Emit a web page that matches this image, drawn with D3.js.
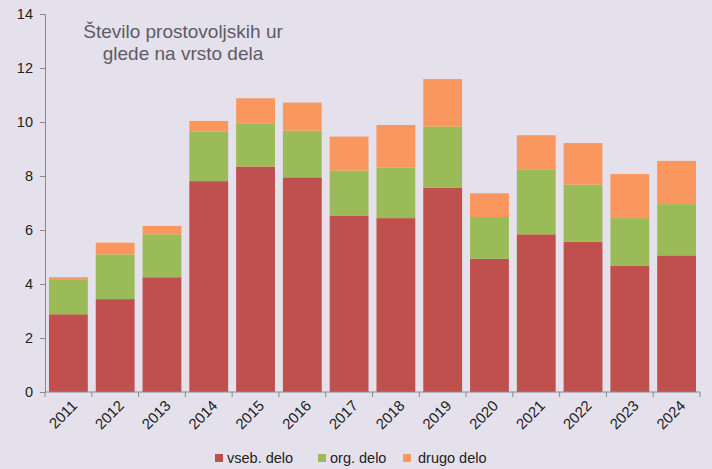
<!DOCTYPE html>
<html><head><meta charset="utf-8">
<script src="https://cdn.jsdelivr.net/npm/d3@7"></script>
<style>body{margin:0;background:#e4e1ec;} svg{display:block;}</style>
</head><body><svg id="c" width="712" height="469"></svg>
<script>
const years = ["2011","2012","2013","2014","2015","2016","2017","2018","2019","2020","2021","2022","2023","2024"];
const vseb = [2.88,3.44,4.25,7.81,8.35,7.95,6.52,6.44,7.57,4.93,5.84,5.56,4.67,5.06];
const org = [1.27,1.66,1.59,1.83,1.60,1.73,1.68,1.87,2.26,1.55,2.39,2.12,1.77,1.90];
const drugo = [0.10,0.43,0.31,0.40,0.93,1.04,1.26,1.58,1.76,0.88,1.28,1.54,1.63,1.60];
const seriesNames = ["vseb. delo","org. delo","drugo delo"];
const colors = ["#c0504d","#9bbb59","#fa975f"];
const yTicks = [0,2,4,6,8,10,12,14];
const titleLines = ["Število prostovoljskih ur","glede na vrsto dela"];

const svg = d3.select("#c");
const font = "'Liberation Sans', Arial, sans-serif";
const m = {l:45, r:12, t:14, b:77};
const W = 712, H = 469;
const x = d3.scaleBand().domain(years).range([m.l, W-m.r]).paddingInner(0.17).paddingOuter(0.085);
const xb = d3.scaleLinear().domain([0, years.length]).range([m.l, W-m.r]);
const y = d3.scaleLinear().domain([0,14]).range([H-m.b, m.t]);

const data = years.map((yr,i)=>({year:yr, "vseb. delo":vseb[i], "org. delo":org[i], "drugo delo":drugo[i]}));
const stack = d3.stack().keys(seriesNames)(data);

svg.append("g").selectAll("g").data(stack).join("g")
  .attr("fill",(d,i)=>colors[i])
  .selectAll("rect").data(d=>d).join("rect")
  .attr("x",d=>x(d.data.year)).attr("width",x.bandwidth())
  .attr("y",d=>y(d[1])).attr("height",d=>y(d[0])-y(d[1]));

// y axis
const ya = svg.append("g").attr("transform",`translate(${m.l},0)`)
  .call(d3.axisLeft(y).tickValues(yTicks).tickSize(5).tickPadding(7).tickFormat(d3.format("d")));
ya.select(".domain").attr("stroke","#8a8a8a");
ya.selectAll(".tick line").attr("stroke","#8a8a8a");
ya.selectAll("text").attr("font-family",font).attr("font-size",14.5).attr("fill","#222");

// x axis
const xa = svg.append("g").attr("transform",`translate(0,${y(0)})`);
xa.append("line").attr("x1",m.l).attr("x2",W-m.r).attr("y1",0).attr("y2",0).attr("stroke","#8a8a8a");
xa.selectAll(".tk").data(d3.range(years.length+1)).join("line")
  .attr("x1",d=>xb(d)).attr("x2",d=>xb(d)).attr("y1",0).attr("y2",5).attr("stroke","#8a8a8a");
xa.selectAll(".lb").data(years).join("text")
  .attr("transform",d=>`translate(${x(d)+x.bandwidth()/2+6},${11}) rotate(-45)`)
  .attr("text-anchor","end").attr("dy","0.35em")
  .attr("font-family",font).attr("font-size",15).attr("fill","#222").text(d=>d);

// title
svg.append("g").selectAll("text").data(titleLines).join("text")
  .attr("x",183).attr("y",(d,i)=>38+i*22).attr("text-anchor","middle")
  .attr("font-family",font).attr("font-size",19).attr("fill","#5e5b66").text(d=>d);

// legend
const lx = [215, 318, 403];
const lg = svg.append("g").selectAll("g").data(seriesNames).join("g")
  .attr("transform",(d,i)=>`translate(${lx[i]},458)`);
lg.append("rect").attr("x",0).attr("y",-4).attr("width",8).attr("height",8).attr("fill",(d,i)=>colors[i]);
lg.append("text").attr("x",(d,i)=>i==2?15:12).attr("dy","0.35em").attr("font-family",font).attr("font-size",14.5)
  .attr("fill","#222").text(d=>d);
</script></body></html>
